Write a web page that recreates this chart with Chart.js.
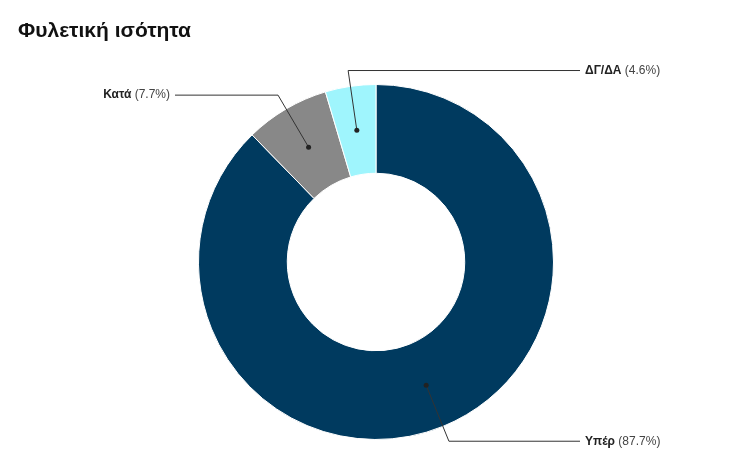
<!DOCTYPE html>
<html><head><meta charset="utf-8">
<script src="https://cdn.jsdelivr.net/npm/chart.js@4"></script>
<style>body{margin:0;background:#fff}canvas{display:block}</style>
</head><body>
<canvas id="myChart" width="734" height="470"></canvas>
<script>
const categories = ['Υπέρ', 'Κατά', 'ΔΓ/ΔΑ'];
const values = [87.7, 7.7, 4.6];
const colors = ['#003a5f', '#888888', '#9ff5fd'];
const labelSide = ['right', 'left', 'right'];

const labelPlugin = {
    id: 'labels',
    afterDraw(chart) {
        const ctx = chart.ctx;
        ctx.save();
        ctx.fillStyle = '#111';
        ctx.font = 'bold 21px "Liberation Sans", Arial, sans-serif';
        ctx.textBaseline = 'alphabetic';
        ctx.fillText('Φυλετική ισότητα', 18, 37);
        const meta = chart.getDatasetMeta(0);
        meta.data.forEach((arc, i) => {
            const a = (arc.startAngle + arc.endAngle) / 2;
            const rm = (arc.innerRadius + arc.outerRadius) / 2;
            const re = arc.outerRadius + 16;
            const dx = arc.x + Math.cos(a) * rm, dy = arc.y + Math.sin(a) * rm;
            const ex = arc.x + Math.cos(a) * re, ey = arc.y + Math.sin(a) * re;
            const left = labelSide[i] === 'left';
            const hx = left ? 175 : 580;
            ctx.strokeStyle = '#333';
            ctx.lineWidth = 1;
            ctx.beginPath();
            ctx.moveTo(dx, dy); ctx.lineTo(ex, ey); ctx.lineTo(hx, ey);
            ctx.stroke();
            ctx.fillStyle = '#222';
            ctx.beginPath(); ctx.arc(dx, dy, 2.5, 0, Math.PI * 2); ctx.fill();
            const name = categories[i];
            const pct = ' (' + values[i].toFixed(1) + '%)';
            ctx.textBaseline = 'middle';
            ctx.font = 'bold 12px "Liberation Sans", Arial, sans-serif';
            const w1 = ctx.measureText(name).width;
            ctx.font = '12px "Liberation Sans", Arial, sans-serif';
            const w2 = ctx.measureText(pct).width;
            let x = left ? hx - 5 - w1 - w2 : hx + 5;
            ctx.fillStyle = '#222';
            ctx.font = 'bold 12px "Liberation Sans", Arial, sans-serif';
            ctx.fillText(name, x, ey);
            ctx.fillStyle = '#444';
            ctx.font = '12px "Liberation Sans", Arial, sans-serif';
            ctx.fillText(pct, x + w1, ey);
        });
        ctx.restore();
    }
};

new Chart(document.getElementById('myChart'), {
    type: 'doughnut',
    data: {
        labels: categories,
        datasets: [{ data: values, backgroundColor: colors, borderColor: '#ffffff', borderWidth: 1 }]
    },
    options: {
        responsive: false,
        animation: false,
        cutout: '50%',
        layout: { padding: { top: 84, bottom: 30, left: 198, right: 180 } },
        plugins: { legend: { display: false }, tooltip: { enabled: false } }
    },
    plugins: [labelPlugin]
});
</script>
</body></html>
